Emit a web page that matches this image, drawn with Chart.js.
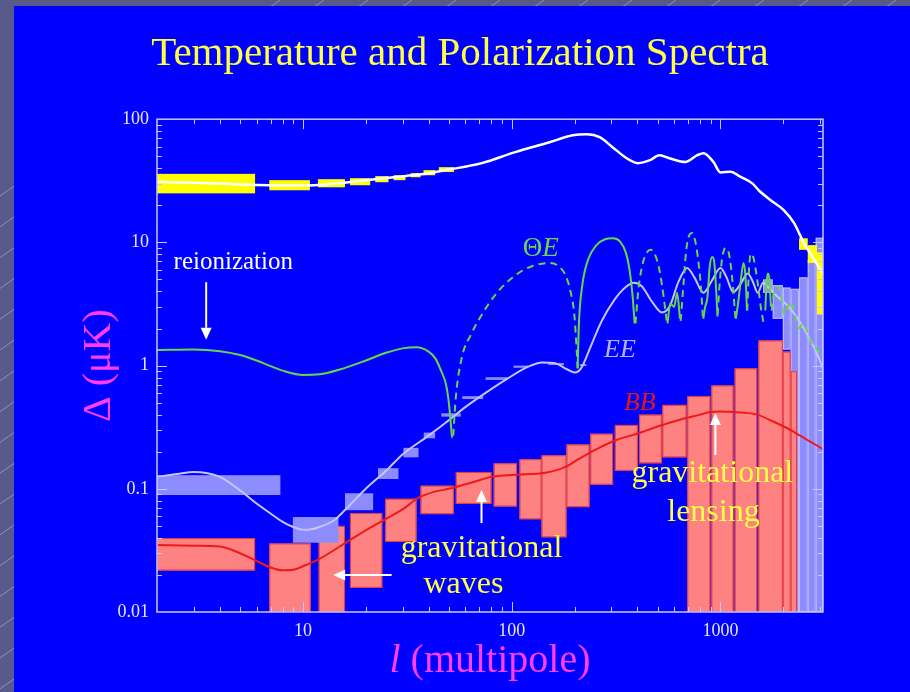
<!DOCTYPE html>
<html>
<head>
<meta charset="utf-8">
<script src="https://cdn.jsdelivr.net/npm/chart.js@4.4.1/dist/chart.umd.min.js"></script>
<style>
  html, body { margin: 0; padding: 0; background: #585a8a; }
  canvas { display: block; }
</style>
</head>
<body>
<canvas id="spectra" width="910" height="692"></canvas>
<script>
// ---- axes ----
const lRange = [2, 3100];          // multipole range
const dRange = [0.01, 100];        // Delta (uK) range
const xTickValues = [10, 100, 1000];
const xTickText = ['10', '100', '1000'];
const yTickValues = [0.01, 0.1, 1, 10, 100];
const yTickText = ['0.01', '0.1', '1', '10', '100'];

// ---- temperature (TT) ----
const ttL = [2, 3, 4, 6, 8, 10, 14, 20, 28, 36, 50, 72, 104, 152, 196, 229, 264, 305, 357, 402, 460, 510, 575, 678, 775, 830, 925, 1000, 1117, 1250, 1426, 1525, 1740, 2010, 2250, 2510, 2820, 3100];
const ttV = [31, 30.5, 30, 29.2, 29, 29, 30, 32, 34, 35.5, 39, 44, 54, 65, 74, 75.5, 71.5, 59, 48, 44, 46.5, 51, 48, 45, 51, 53, 45, 37, 37.5, 34, 30, 26.5, 22, 18.3, 14.4, 9.9, 7.2, 5.6];
// error boxes: [l min, l max, low, high]
const ttBoxes = [
  [2, 5.9, 25, 36], [6.9, 10.8, 26.5, 32], [11.8, 15.9, 28, 32.6], [16.8, 21, 29.1, 33.2],
  [22.2, 25.7, 30.8, 34.5], [27.2, 31, 32, 35.1], [32.8, 36.6, 33.8, 36.5], [37.8, 43, 35.1, 38.6],
  [44.8, 52.9, 37.3, 40.8], [2380, 2620, 8.7, 10.8], [2620, 2900, 6.8, 9.5], [2900, 3100, 2.6, 8.3]
];

// ---- E-mode polarization (EE) ----
const eeL = [2, 2.5, 3, 4, 5, 6, 7, 8, 9, 10, 11, 12, 14, 16, 20, 25, 30, 40, 50, 60, 75, 95, 120, 140, 160, 185, 200, 215, 240, 270, 310, 350, 385, 420, 470, 525, 570, 630, 693, 750, 830, 910, 1000, 1070, 1150, 1250, 1350, 1430, 1510, 1600, 1700, 1850, 2010, 2200, 2430, 2700, 2930, 3100];
const eeV = [0.125, 0.132, 0.137, 0.125, 0.097, 0.076, 0.063, 0.054, 0.049, 0.0465, 0.047, 0.049, 0.055, 0.068, 0.1, 0.14, 0.19, 0.27, 0.36, 0.46, 0.6, 0.78, 0.98, 1.06, 1.05, 0.93, 0.88, 0.95, 1.45, 2.3, 3.4, 4.3, 4.7, 4.4, 3.3, 2.7, 3.0, 4.8, 6.2, 5.2, 3.9, 4.9, 6.2, 5.2, 3.95, 4.6, 5.6, 4.8, 3.9, 4.7, 4.3, 3.7, 3.3, 2.8, 2.2, 1.6, 1.2, 0.95];
const eeBoxesLow = [
  [2, 7.8, 0.089, 0.129], [8.95, 14.8, 0.0365, 0.059], [15.9, 21.7, 0.067, 0.092],
  [22.9, 28.7, 0.12, 0.147], [30.3, 35.8, 0.18, 0.215], [37.9, 43, 0.257, 0.286],
  [46, 57, 0.385, 0.41], [58, 73, 0.535, 0.565], [75, 95, 0.765, 0.805],
  [102, 120, 0.96, 1.0], [150, 178, 1.01, 1.05], [212, 228, 0.99, 1.03]
];
const eeBoxesHigh = [
  [1600, 1780, 3.9, 5.0], [1780, 1990, 2.4, 4.5], [1990, 2170, 1.35, 4.3],
  [2170, 2380, 0.01, 4.2], [2380, 2620, 0.01, 5.2], [2620, 2860, 0.01, 7.2], [2860, 3100, 0.01, 10.9]
];

// ---- B-mode polarization (BB) ----
const bbL = [2, 3, 4, 5, 6, 7, 8, 9, 10, 12, 15, 20, 25, 30, 36, 42, 50, 65, 80, 104, 145, 180, 210, 255, 320, 399, 500, 663, 800, 895, 1000, 1155, 1300, 1500, 1800, 2170, 2600, 3100];
const bbV = [0.035, 0.0345, 0.034, 0.03, 0.026, 0.023, 0.0218, 0.022, 0.0235, 0.027, 0.034, 0.046, 0.057, 0.068, 0.085, 0.094, 0.1, 0.113, 0.125, 0.13, 0.135, 0.15, 0.175, 0.21, 0.25, 0.28, 0.32, 0.37, 0.4, 0.42, 0.425, 0.42, 0.415, 0.4, 0.35, 0.3, 0.25, 0.21];
const bbBoxes = [
  [2, 5.9, 0.0217, 0.0398], [6.9, 10.9, 0.01, 0.036], [11.9, 15.9, 0.01, 0.05],
  [16.8, 24.0, 0.0157, 0.0635], [24.8, 35, 0.037, 0.083], [36.6, 52.8, 0.0623, 0.106],
  [54, 80, 0.0755, 0.137], [82, 106, 0.0718, 0.161], [109, 139, 0.0566, 0.174],
  [139, 183, 0.0404, 0.187], [183, 236, 0.071, 0.229], [238, 306, 0.108, 0.28],
  [312, 402, 0.14, 0.33], [408, 524, 0.161, 0.40], [527, 688, 0.18, 0.48],
  [694, 895, 0.01, 0.567], [905, 1155, 0.01, 0.69], [1170, 1500, 0.01, 0.95],
  [1520, 1990, 0.01, 1.6], [1990, 2170, 0.01, 1.3], [2170, 2330, 0.01, 0.9]
];

// ---- temperature-polarization cross (ThetaE): positive lobes solid, negative lobes dashed (|value|) ----
const teSolid = [
  [[2, 1.34], [3, 1.35], [4, 1.31], [5, 1.22], [6, 1.1], [7, 0.99], [8, 0.91], [10, 0.84], [12, 0.85], [15, 0.93], [20, 1.1], [25, 1.27], [30, 1.38], [35, 1.41], [40, 1.3], [43, 1.15], [46, 0.9], [48.5, 0.7], [50, 0.5], [51, 0.35], [51.8, 0.26]],
  [[207, 0.95], [210, 2.2], [218, 4.5], [232, 7.2], [255, 9.5], [280, 10.6], [305, 10.8], [330, 10.2], [352, 8.3], [368, 5.8], [380, 3.6], [388, 2.2]],
  [[558, 2.2], [575, 3.2], [600, 3.0], [620, 3.9], [640, 2.4]],
  [[828, 2.4], [845, 3.0], [865, 3.5], [890, 6.5], [915, 7.6], [935, 6.8], [955, 4.0], [968, 2.5]],
  [[1185, 2.4], [1215, 3.2], [1250, 4.8], [1290, 6.8], [1318, 5.3], [1340, 2.8]],
  [[1640, 2.8], [1665, 4.8], [1690, 5.6], [1720, 4.8], [1745, 3.0]]
];
const teDashed = [
  [[52.5, 0.27], [54, 0.55], [57.6, 1.15], [64, 1.8], [72, 2.6], [85, 3.9], [104, 5.4], [125, 6.4], [152, 6.8], [170, 6.3], [182, 5.3], [192, 3.9], [200, 2.5], [205, 1.3], [207, 0.95]],
  [[392, 2.2], [405, 4.2], [425, 6.8], [445, 8.3], [462, 8.7], [480, 8.3], [505, 6.5], [525, 4.5], [545, 2.8], [555, 2.2]],
  [[645, 2.3], [665, 4.5], [685, 8.5], [710, 11.5], [733, 11.9], [755, 10.5], [780, 7.5], [805, 4.5], [825, 2.4]],
  [[970, 2.6], [990, 4.5], [1020, 7.5], [1060, 9.0], [1100, 8.0], [1140, 5.0], [1180, 2.4]],
  [[1345, 2.8], [1370, 6.0], [1400, 8.1], [1440, 7.5], [1500, 5.0], [1560, 3.0], [1610, 2.2]],
  [[1760, 2.8], [1810, 4.0], [1880, 4.4], [1960, 3.6], [2030, 2.6], [2100, 3.0], [2180, 3.3], [2280, 2.5], [2380, 2.0], [2480, 2.2], [2600, 1.9], [2750, 1.5], [2900, 1.35], [3100, 1.15]]
];

// ---- annotations (anchored in data units) ----
const SERIF = '"Liberation Serif", "Times New Roman", serif';
const notes = [
  { parts: [{ t: 'reionization' }], l: 4.64, v: 6.9, size: 25, color: '#ffffff' },
  { parts: [{ t: 'Θ' }, { t: 'E', it: true }], l: 138, v: 8.8, size: 27, color: '#6ad84e' },
  { parts: [{ t: 'EE', it: true }], l: 330, v: 1.34, size: 26, color: '#b4b4ff' },
  { parts: [{ t: 'BB', it: true }], l: 411, v: 0.5, size: 26, color: '#e01818' },
  { parts: [{ t: 'gravitational' }], l: 71.7, v: 0.033, size: 32, color: '#ffff44' },
  { parts: [{ t: 'waves' }], l: 58.7, v: 0.0166, size: 32, color: '#ffff44' },
  { parts: [{ t: 'gravitational' }], l: 915, v: 0.132, size: 32, color: '#ffff44' },
  { parts: [{ t: 'lensing' }], l: 926, v: 0.0636, size: 32, color: '#ffff44' }
];
const arrows = [
  [[3.44, 4.75], [3.44, 1.62]],
  [[71.7, 0.0527], [71.7, 0.0977]],
  [[26.6, 0.02], [13.95, 0.02]],
  [[946, 0.188], [946, 0.412]]
];

// ---- helpers ----
const pts = (ls, vs) => ls.map((l, i) => ({ x: l, y: vs[i] }));
const segs = list => list.flatMap(seg => [
  ...seg.map(p => ({ x: p[0], y: p[1] })),
  { x: seg[seg.length - 1][0], y: null }
]);

function drawBoxes(chart, boxes, fill, stroke) {
  const { ctx, chartArea: a, scales: { x, y } } = chart;
  ctx.save();
  ctx.beginPath();
  ctx.rect(a.left, a.top, a.right - a.left, a.bottom - a.top);
  ctx.clip();
  boxes.forEach(([l0, l1, v0, v1]) => {
    const x0 = x.getPixelForValue(l0), x1 = x.getPixelForValue(l1);
    const y0 = y.getPixelForValue(v1), y1 = y.getPixelForValue(v0);
    ctx.fillStyle = fill;
    ctx.fillRect(x0, y0, x1 - x0, y1 - y0);
    if (stroke) {
      ctx.strokeStyle = stroke;
      ctx.lineWidth = 1;
      ctx.strokeRect(x0 + 0.5, y0 + 0.5, x1 - x0 - 1, y1 - y0 - 1);
    }
  });
  ctx.restore();
}

function minorValues(lo, hi) {
  const out = [];
  for (let e = Math.floor(Math.log10(lo)); e <= Math.ceil(Math.log10(hi)); e++) {
    for (let k = 1; k <= 9; k++) {
      const v = k * Math.pow(10, e);
      if (v > lo * 1.0001 && v < hi * 0.9999) out.push({ v, major: k === 1 });
    }
  }
  return out;
}

function drawArrow(ctx, x0, y0, x1, y1) {
  const ang = Math.atan2(y1 - y0, x1 - x0);
  const head = 12, half = 5.5;
  ctx.beginPath();
  ctx.moveTo(x0, y0);
  ctx.lineTo(x1 - Math.cos(ang) * head, y1 - Math.sin(ang) * head);
  ctx.stroke();
  ctx.beginPath();
  ctx.moveTo(x1, y1);
  ctx.lineTo(x1 - Math.cos(ang) * head - Math.sin(ang) * half, y1 - Math.sin(ang) * head + Math.cos(ang) * half);
  ctx.lineTo(x1 - Math.cos(ang) * head + Math.sin(ang) * half, y1 - Math.sin(ang) * head - Math.cos(ang) * half);
  ctx.closePath();
  ctx.fill();
}

// slide backdrop: striped slate border with a blue panel
const slidePlugin = {
  id: 'slide',
  beforeDraw(chart) {
    const ctx = chart.ctx;
    ctx.save();
    ctx.fillStyle = '#585a8a';
    ctx.fillRect(0, 0, chart.width, chart.height);
    ctx.strokeStyle = 'rgba(200,200,230,0.5)';
    ctx.lineWidth = 1;
    for (let k = -720; k < 960; k += 44) {
      ctx.beginPath();
      ctx.moveTo(k, 700);
      ctx.lineTo(k + 1000, 0);
      ctx.stroke();
    }
    ctx.fillStyle = '#0000ff';
    ctx.fillRect(14, 6, chart.width - 14, chart.height - 6);
    ctx.restore();
  }
};

// error boxes sit under the curves
const boxPlugin = {
  id: 'errorBoxes',
  beforeDatasetsDraw(chart) {
    drawBoxes(chart, eeBoxesHigh, '#8c8cff', 'rgba(196,196,255,0.9)');
    drawBoxes(chart, bbBoxes, '#ff8282', '#e23a3a');
    drawBoxes(chart, eeBoxesLow, '#8c8cff', null);
    drawBoxes(chart, ttBoxes, '#ffff00', null);
  }
};

// frame, inward ticks, labels and arrows
const framePlugin = {
  id: 'frameAndNotes',
  afterDatasetsDraw(chart) {
    const { ctx, chartArea: a, scales: { x, y } } = chart;
    ctx.save();
    ctx.strokeStyle = '#c8c8ff';
    ctx.lineWidth = 1.5;
    ctx.strokeRect(a.left, a.top, a.right - a.left, a.bottom - a.top);
    ctx.lineWidth = 1;
    minorValues(lRange[0], lRange[1]).forEach(t => {
      const px = Math.round(x.getPixelForValue(t.v)) + 0.5;
      const len = t.major ? 10 : 5;
      ctx.beginPath();
      ctx.moveTo(px, a.bottom); ctx.lineTo(px, a.bottom - len);
      ctx.moveTo(px, a.top); ctx.lineTo(px, a.top + len);
      ctx.stroke();
    });
    minorValues(dRange[0], dRange[1]).forEach(t => {
      const py = Math.round(y.getPixelForValue(t.v)) + 0.5;
      const len = t.major ? 10 : 5;
      ctx.beginPath();
      ctx.moveTo(a.left, py); ctx.lineTo(a.left + len, py);
      ctx.moveTo(a.right, py); ctx.lineTo(a.right - len, py);
      ctx.stroke();
    });

    // arrows
    ctx.strokeStyle = '#ffffff';
    ctx.fillStyle = '#ffffff';
    ctx.lineWidth = 2;
    arrows.forEach(([p0, p1]) => {
      drawArrow(ctx, x.getPixelForValue(p0[0]), y.getPixelForValue(p0[1]),
                     x.getPixelForValue(p1[0]), y.getPixelForValue(p1[1]));
    });

    // text labels
    ctx.textBaseline = 'middle';
    ctx.textAlign = 'left';
    notes.forEach(n => {
      const fonts = n.parts.map(p => (p.it ? 'italic ' : '') + n.size + 'px ' + SERIF);
      const widths = n.parts.map((p, i) => { ctx.font = fonts[i]; return ctx.measureText(p.t).width; });
      let cx = x.getPixelForValue(n.l) - widths.reduce((s, w) => s + w, 0) / 2;
      const cy = y.getPixelForValue(n.v);
      ctx.fillStyle = n.color;
      n.parts.forEach((p, i) => { ctx.font = fonts[i]; ctx.fillText(p.t, cx, cy); cx += widths[i]; });
    });

    // x-axis title: italic l followed by upright text
    const titleParts = [{ t: 'l', f: 'italic 40px ' + SERIF }, { t: ' (multipole)', f: '40px ' + SERIF }];
    const tw = titleParts.map(p => { ctx.font = p.f; return ctx.measureText(p.t).width; });
    let tx = (a.left + a.right) / 2 - (tw[0] + tw[1]) / 2;
    ctx.fillStyle = '#ff3cff';
    titleParts.forEach((p, i) => { ctx.font = p.f; ctx.fillText(p.t, tx, a.bottom + 49); tx += tw[i]; });
    ctx.restore();
  }
};

const lineDefaults = { showLine: true, pointRadius: 0, pointHoverRadius: 0, cubicInterpolationMode: 'monotone', spanGaps: false, fill: false };

new Chart(document.getElementById('spectra'), {
  type: 'scatter',
  data: {
    datasets: [
      { ...lineDefaults, label: 'TT', data: pts(ttL, ttV), borderColor: '#ffffff', borderWidth: 2.5 },
      { ...lineDefaults, label: 'ΘE (+)', data: segs(teSolid), borderColor: '#66d64a', borderWidth: 2 },
      { ...lineDefaults, label: 'ΘE (−)', data: segs(teDashed), borderColor: '#66d64a', borderWidth: 2, borderDash: [7, 5] },
      { ...lineDefaults, label: 'EE', data: pts(eeL, eeV), borderColor: '#c4c4ff', borderWidth: 2 },
      { ...lineDefaults, label: 'BB', data: pts(bbL, bbV), borderColor: '#f01818', borderWidth: 2 }
    ]
  },
  options: {
    responsive: false,
    animation: false,
    devicePixelRatio: 1,
    events: [],
    layout: { padding: { left: 10, right: 0, top: 0, bottom: 0 } },
    plugins: {
      legend: { display: false },
      tooltip: { enabled: false },
      title: {
        display: true,
        text: 'Temperature and Polarization Spectra',
        color: '#ffff44',
        font: { family: SERIF, size: 41, weight: 'normal', lineHeight: 1.2 },
        padding: { top: 30, bottom: 40 }
      }
    },
    scales: {
      x: {
        type: 'logarithmic',
        position: 'bottom',
        min: lRange[0],
        max: lRange[1],
        grid: { display: false, drawTicks: false },
        border: { display: false },
        afterBuildTicks: s => { s.ticks = xTickValues.map(v => ({ value: v })); },
        afterFit: s => { s.height = 80; },
        ticks: {
          autoSkip: false,
          maxRotation: 0,
          padding: 8,
          color: '#e6e6ff',
          font: { family: SERIF, size: 18 },
          callback: (v, i) => xTickText[i]
        }
      },
      y: {
        type: 'logarithmic',
        position: 'left',
        min: dRange[0],
        max: dRange[1],
        grid: { display: false, drawTicks: false },
        border: { display: false },
        afterBuildTicks: s => { s.ticks = yTickValues.map(v => ({ value: v })); },
        afterFit: s => { s.width = 147; },
        ticks: {
          autoSkip: false,
          padding: 8,
          color: '#e6e6ff',
          font: { family: SERIF, size: 18 },
          callback: (v, i) => yTickText[i]
        },
        title: {
          display: true,
          text: 'Δ (μK)',
          color: '#ff3cff',
          font: { family: SERIF, size: 40, lineHeight: 1.2 },
          padding: { top: 65, bottom: 0 }
        }
      },
      yRight: {
        type: 'linear',
        position: 'right',
        display: true,
        grid: { display: false, drawTicks: false },
        border: { display: false },
        ticks: { display: false },
        afterFit: s => { s.width = 87; }
      }
    }
  },
  plugins: [slidePlugin, boxPlugin, framePlugin]
});
</script>
</body>
</html>
